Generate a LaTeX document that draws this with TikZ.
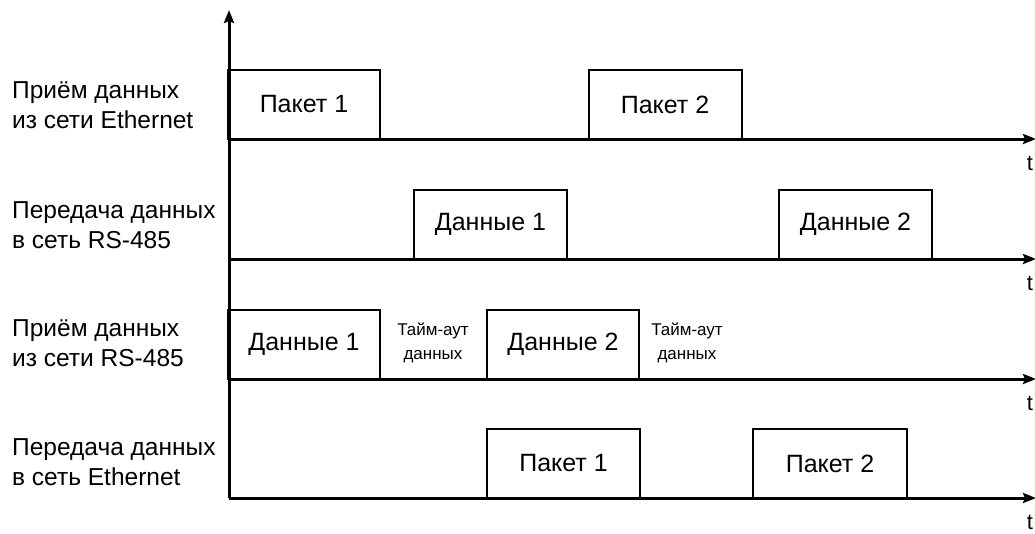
\documentclass[tikz,border=0pt]{standalone}
\usepackage{fontspec}
\setmainfont{Liberation Sans}
\usetikzlibrary{arrows.meta}
\begin{document}
\begin{tikzpicture}[x=1pt,y=-1pt,
  axis/.style={line width=3pt,-{Stealth[length=13pt,width=10pt,inset=2pt]}},
  pulse/.style={draw,line width=2pt,minimum width=#1,minimum height=69pt,inner sep=0pt,
    font=\fontsize{25}{25}\selectfont},
  sig/.style={anchor=west,align=left,inner sep=0pt,font=\fontsize{24.5}{30}\selectfont},
  gap/.style={align=center,inner sep=0pt,font=\fontsize{17}{24}\selectfont},
  tlab/.style={inner sep=0pt,font=\fontsize{22}{22}\selectfont}]
\useasboundingbox (0,0) rectangle (1035,533);

% time axes
\coordinate (top) at (229,10);
\coordinate (o)  at (229,498);
\foreach \i/\y in {1/139,2/259,3/379,4/498}{
  \coordinate (s\i) at (229,\y);
  \coordinate (e\i) at (1036,\y);
}
\draw[axis] (o) -- (top);
\foreach \i in {1,...,4}{
  \draw[axis] (s\i) -- (e\i);
}

% signal names
\node[sig] (n1) at (12,105) {Приём данных\\из сети Ethernet};
\node[sig] (n2) at (12,225) {Передача данных\\в сеть RS-485};
\node[sig] (n3) at (12,343) {Приём данных\\из сети RS-485};
\node[sig] (n4) at (12,462) {Передача данных\\в сеть Ethernet};

% pulses
\node[pulse=152pt] (r1a) at (304,104.5) {Пакет 1};
\node[pulse=153pt] (r1b) at (665,104.5) {Пакет 2};
\node[pulse=153pt] (r2a) at (490.5,224.5) {Данные 1};
\node[pulse=153pt] (r2b) at (855.5,224.5) {Данные 2};
\node[pulse=152pt] (r3a) at (304,344.5) {Данные 1};
\node[pulse=152pt] (r3b) at (563,344.5) {Данные 2};
\node[pulse=153pt] (r4a) at (563.5,463.5) {Пакет 1};
\node[pulse=154pt] (r4b) at (830,463.5) {Пакет 2};

% timeouts
\node[gap] (g1) at (433,343) {Тайм-аут\\данных};
\node[gap] (g2) at (687,343) {Тайм-аут\\данных};

% time labels
\foreach \i/\y in {1/139,2/259,3/379,4/498}{
  \node[tlab] (t\i) at (1030,\y+24) {t};
}
\end{tikzpicture}
\end{document}
